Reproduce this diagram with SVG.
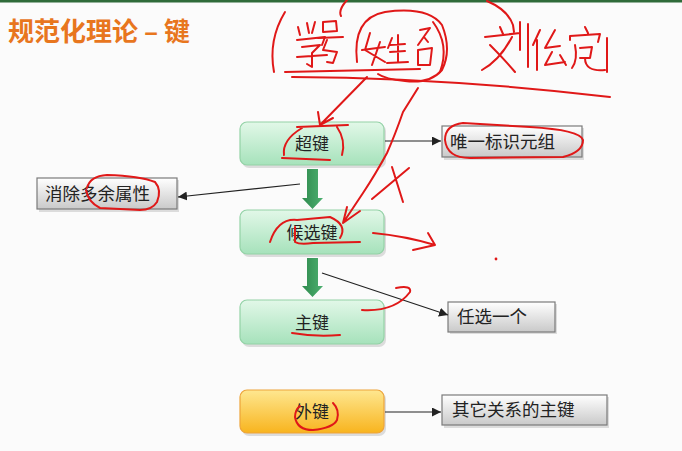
<svg xmlns="http://www.w3.org/2000/svg" width="682" height="451" viewBox="0 0 682 451">
<defs>
<linearGradient id="gGreen" x1="0" y1="0" x2="0" y2="1"><stop offset="0" stop-color="#e2f8e8"/><stop offset="1" stop-color="#a6e2bb"/></linearGradient>
<linearGradient id="gOrange" x1="0" y1="0" x2="0" y2="1"><stop offset="0" stop-color="#fee790"/><stop offset="1" stop-color="#f8b41e"/></linearGradient>
<linearGradient id="gGray" x1="0" y1="0" x2="0" y2="1"><stop offset="0" stop-color="#ffffff"/><stop offset="1" stop-color="#c9c9c9"/></linearGradient>
<linearGradient id="gArrow" x1="0" y1="0" x2="1" y2="0"><stop offset="0" stop-color="#2f8a4e"/><stop offset="1" stop-color="#4db070"/></linearGradient>
<marker id="ah" viewBox="0 0 10 10" refX="10" refY="5" markerWidth="9" markerHeight="9" markerUnits="userSpaceOnUse" orient="auto"><path d="M0,0 L10,5 L0,10 z" fill="#222"/></marker>
</defs>
<style>
text{font-family:"Noto Sans CJK SC","Noto Sans",sans-serif;}
.gbox{fill:url(#gGreen);stroke:#93d2a6;stroke-width:1.2;}
.obox{fill:url(#gOrange);stroke:#eda43a;stroke-width:1.2;}
.xbox{fill:url(#gGray);stroke:#7a7a7a;stroke-width:1.2;}
.shadow{fill:#000;opacity:0.12;}
.lbl{font-size:17px;fill:#222;text-anchor:middle;}
.glbl{font-size:17.5px;fill:#222;}
.conn{stroke:#222;stroke-width:1.2;fill:none;marker-end:url(#ah);}
.red{stroke:#e01818;stroke-width:2;fill:none;stroke-linecap:round;stroke-linejoin:round;}
</style>
<rect width="682" height="451" fill="#fbfbfb"/>
<rect width="682" height="2.5" fill="#2f6b3a"/>
<text x="8" y="41" font-size="26" font-weight="bold" fill="#e8761e">规范化理论 – 键</text>

<g id="n-superkey"><rect class="shadow" x="242" y="124" width="144" height="44" rx="7"/><rect class="gbox" x="240" y="122" width="144" height="43" rx="7"/><text class="lbl" x="312" y="150">超键</text></g>
<g id="n-candkey"><rect class="shadow" x="242" y="212" width="144" height="45" rx="7"/><rect class="gbox" x="240" y="210" width="144" height="44" rx="7"/><text class="lbl" x="312" y="239">候选键</text></g>
<g id="n-pk"><rect class="shadow" x="242" y="302" width="144" height="45" rx="7"/><rect class="gbox" x="240" y="300" width="144" height="44" rx="7"/><text class="lbl" x="312" y="329">主键</text></g>
<g id="n-fk"><rect class="shadow" x="242" y="392" width="144" height="44" rx="7"/><rect class="obox" x="240" y="390" width="144" height="43" rx="7"/><text class="lbl" x="312" y="418">外键</text></g>

<g id="n-unique"><rect class="shadow" x="444" y="128" width="140" height="32"/><rect class="xbox" x="442" y="126" width="140" height="31"/><text class="glbl" x="450" y="148">唯一标识元组</text></g>
<g id="n-remove"><rect class="shadow" x="39" y="180" width="140" height="32"/><rect class="xbox" x="37" y="178" width="140" height="31"/><text class="glbl" x="45" y="200">消除多余属性</text></g>
<g id="n-choose"><rect class="shadow" x="450" y="304" width="107" height="30"/><rect class="xbox" x="448" y="302" width="107" height="30"/><text class="glbl" x="457" y="323">任选一个</text></g>
<g id="n-other"><rect class="shadow" x="444" y="397" width="165" height="31"/><rect class="xbox" x="442" y="395" width="165" height="30"/><text class="glbl" x="452" y="416">其它关系的主键</text></g>

<g id="connectors">
<path d="M307,169 H318 V198 H323 L312.5,209 L302,198 H307 Z" fill="url(#gArrow)"/>
<path d="M307,258 H318 V286 H323 L312.5,297 L302,286 H307 Z" fill="url(#gArrow)"/>
<path class="conn" d="M385,141 L441,141"/>
<path class="conn" d="M300,184 L178,197"/>
<path class="conn" d="M322,273 L448,315"/>
<path class="conn" d="M385,412 L441,412"/>
</g>

<g id="annotations">
<path class="red" d="M285,12 Q268,40 274,72"/>
<path class="red" d="M298,27 L300,35 M307,23 L309,33 M315,22 L312,33 M297,40 L325,37 L322,45 M302,47 L320,45 L312,53 L312,67 L307,64 M297,57 L327,55"/>
<path class="red" d="M323,22 L336,21 L337,31 L323,32 Z M318,38 L343,37 M327,40 L323,50 L337,52 L333,63 L327,62"/>
<path class="red" d="M370,33 L365,50 L385,62 M380,42 L372,65 M362,50 L385,47 M392,38 L388,48 M390,45 L405,44 M398,35 L398,62 M390,52 L405,51 M387,63 L408,62"/>
<path class="red" d="M420,30 L430,28 L418,45 M424,37 L428,42 M418,50 L432,48 L430,65 L418,65 Z"/>
<path class="red" d="M357,62 Q352,18 385,12 Q428,6 442,25 Q452,50 442,70 Q430,84 405,81 Q385,79 378,74"/>
<path class="red" d="M433,22 Q450,45 440,72"/>
<path class="red" d="M285,72 L420,69 M292,77 Q450,78 610,97"/>
<path class="red" d="M347,0 Q338,10 341,16"/>
<path class="red" d="M487,1 Q508,10 513,25 L514,32"/>
<path class="red" d="M500,27 L503,34 M485,37 L520,33 M512,37 Q500,60 482,70 M490,45 Q505,60 515,72 M520,22 L520,50 M528,24 L528,67"/>
<path class="red" d="M540,30 L533,45 M537,40 L537,70 M555,30 L545,48 L560,46 M552,52 L545,65 L565,62 M560,55 L566,65"/>
<path class="red" d="M585,27 L588,33 M570,40 L570,36 L600,34 L598,42 M575,45 Q578,60 572,68 M580,48 L592,47 L590,58 L580,58 M585,58 Q585,72 605,70 M607,38 L607,72"/>
<path class="red" d="M367,77 L320,125 M318,112 L320,125 L333,118"/>
<path class="red" d="M418,88 L403,112 Q395,135 387,153 Q375,175 363,193 L343,223 M347,207 L343,223 L360,211"/>
<path class="red" d="M297,127 L348,125 M302,128 Q282,140 284,155 M337,127 Q346,140 342,155 M282,158 L330,160"/>
<path class="red" d="M372,199 L409,168 M392,167 L403,202"/>
<path class="red" d="M270,242 Q278,218 297,220 L330,217 Q348,225 340,238 M295,227 L295,242 Q300,245 313,243 L360,242"/>
<path class="red" d="M373,233 Q405,236 435,245 M428,233 L435,245 L413,250"/>
<circle cx="496" cy="259" r="1.4" fill="#e01818"/>
<path class="red" d="M463,123 Q445,125 445,140 Q447,158 470,158 L563,157 Q583,152 583,140 Q580,130 530,127 Z"/>
<path class="red" d="M87,188 Q90,176 107,175 Q140,176 155,182 Q162,190 157,202 Q152,210 140,210 L100,208 Q88,202 86,190"/>
<path class="red" d="M292,333 Q315,337 340,335"/>
<path class="red" d="M362,310 Q395,312 410,292 Q412,285 396,288"/>
<path class="red" d="M333,403 Q340,410 337,420 Q333,428 313,430 Q297,430 295,417 Q295,410 300,406"/>
</g>
</svg>
